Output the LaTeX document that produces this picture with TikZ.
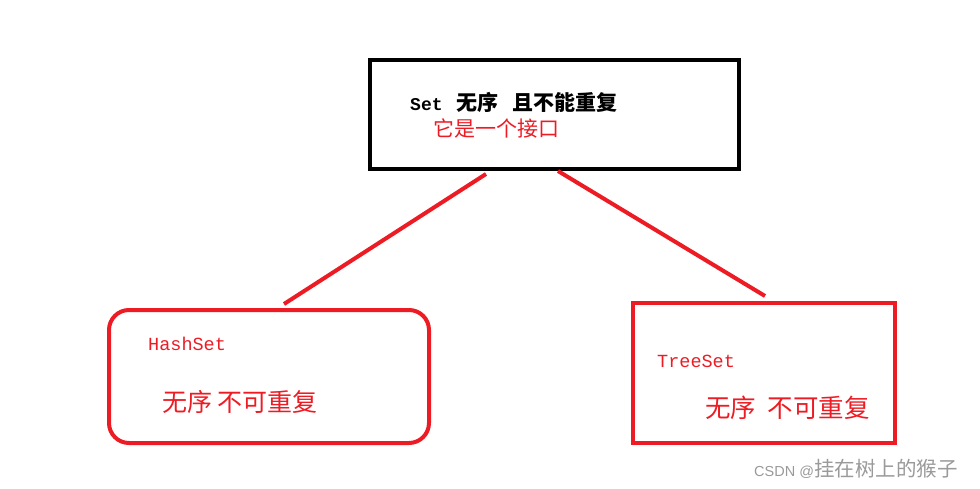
\documentclass[tikz,border=0pt]{standalone}
\usepackage{fontspec}
\newfontfamily\cjk{Noto Sans CJK SC}
\newfontfamily\mono{Liberation Mono}
\newfontfamily\wm{Liberation Sans}
\definecolor{pred}{HTML}{ED1C24}
\definecolor{wmgray}{HTML}{9A9A9A}
\begin{document}
\begin{tikzpicture}[x=1pt,y=-1pt,
  box/.style={draw, line width=4pt, minimum width=#1, anchor=north west, inner sep=0pt},
  link/.style={draw=pred, line width=4pt},
  lbl/.style={anchor=base west, inner sep=0pt}]
\useasboundingbox[fill=white] (0,0) rectangle (980,488);
% boxes
\node[box=369pt, minimum height=109pt, draw=black] (top) at (368,58) {};
\node[box=320pt, minimum height=133pt, draw=pred, rounded corners=20pt] (hash) at (107,308) {};
\node[box=262pt, minimum height=140pt, draw=pred] (tree) at (631,301) {};
% connectors
\draw[link] ([xshift=118pt,yshift=-3pt]top.south west) -- ([xshift=177pt,yshift=4pt]hash.north west);
\draw[link] ([xshift=190pt,yshift=0pt]top.south west) -- ([xshift=134pt,yshift=5pt]tree.north west);
% texts
\node[lbl] (t1) at (410,110) {\mono\fontsize{18}{20}\selectfont\bfseries Set\hspace{14pt}\cjk\fontsize{21}{22}\selectfont 无序\hspace{14pt}且不能重复};
\node[lbl, text=pred] (t2) at (433,136) {\fontsize{21}{22}\selectfont\cjk 它是一个接口};
\node[lbl, text=pred] (h1) at (148,350) {\fontsize{18.5}{20}\selectfont\mono HashSet};
\node[lbl, text=pred] (h2) at (162,411) {\fontsize{25}{28}\selectfont\cjk 无序 不可重复};
\node[lbl, text=pred] (r1) at (657,367) {\fontsize{18.5}{20}\selectfont\mono TreeSet};
\node[lbl, text=pred] (r2) at (705,417) {\fontsize{25.5}{28}\selectfont\cjk 无序\ \ 不可重复};
\node[lbl, text=wmgray] (wm) at (754,476) {\wm\fontsize{14.5}{18}\selectfont CSDN @\cjk\fontsize{20.5}{22}\selectfont 挂在树上的猴子};
\end{tikzpicture}
\end{document}
